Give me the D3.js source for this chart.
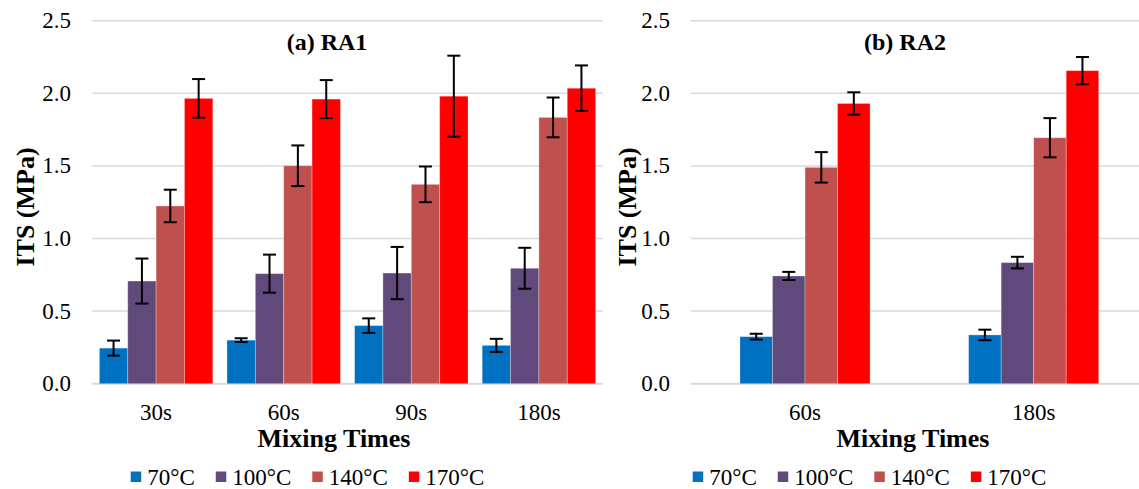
<!DOCTYPE html>
<html>
<head>
<meta charset="utf-8">
<style>
    body { margin: 0; background: #fff; }
    svg { display: block; }
    svg text { font-family: 'Liberation Serif', 'Times New Roman', serif; }
</style>
</head>
<body>
<svg width="1139" height="489"></svg>
<script src="https://d3js.org/d3.v7.min.js"></script>
<script>
    // series (temperatures) and colours
    const temps = ["70°C", "100°C", "140°C", "170°C"];
    const colors = ["#0070C0", "#604A7B", "#C0504D", "#FF0000"];
    const yTicks = [0, 0.5, 1.0, 1.5, 2.0, 2.5];

    // (a) RA1
    const timesRA1 = ["30s", "60s", "90s", "180s"];
    const ra1Mean = [
        [0.245, 0.707, 1.224, 1.965],
        [0.300, 0.758, 1.501, 1.960],
        [0.400, 0.762, 1.373, 1.980],
        [0.264, 0.795, 1.834, 2.035]
    ];
    const ra1Err = [
        [0.052, 0.155, 0.112, 0.133],
        [0.013, 0.131, 0.140, 0.131],
        [0.050, 0.180, 0.123, 0.279],
        [0.045, 0.141, 0.137, 0.157]
    ];

    // (b) RA2
    const timesRA2 = ["60s", "180s"];
    const ra2Mean = [
        [0.324, 0.742, 1.490, 1.930],
        [0.336, 0.834, 1.694, 2.156]
    ];
    const ra2Err = [
        [0.020, 0.028, 0.105, 0.077],
        [0.036, 0.040, 0.135, 0.094]
    ];

    const svg = d3.select("svg");
    const y = d3.scaleLinear().domain([0, 2.5]).range([383.7, 20.7]);

    function drawPanel(opt) {
        let g = svg.append("g");
        let x0 = d3.scaleBand().domain(opt.cats).range([opt.left, opt.right]);
        let groupW = x0.bandwidth() * opt.fill;
        let x1 = d3.scaleBand().domain(temps).range([0, groupW]);

        // gridlines
        g.selectAll(".grid")
            .data(yTicks)
            .join("line")
            .attr("x1", opt.left)
            .attr("x2", opt.gridEnd)
            .attr("y1", d => y(d))
            .attr("y2", d => y(d))
            .attr("stroke", "#d9d9d9")
            .attr("stroke-width", d => d == 0 ? 2 : 1.5);

        // y tick labels
        g.selectAll(".ytick")
            .data(yTicks)
            .join("text")
            .attr("x", opt.tickRight)
            .attr("y", d => y(d))
            .attr("text-anchor", "end")
            .attr("dominant-baseline", "central")
            .style("font-size", "23px")
            .text(d => d3.format(".1f")(d));

        let rows = opt.cats.map((c, i) => temps.map((t, j) => ({
            cat: c, temp: t, j: j, v: opt.mean[i][j], e: opt.err[i][j]
        }))).flat();

        let groups = g.selectAll(".grp")
            .data(rows)
            .join("g")
            .attr("transform", d => `translate(${x0(d.cat) + (x0.bandwidth() - groupW) / 2},0)`);

        groups.append("rect")
            .attr("x", d => x1(d.temp))
            .attr("width", x1.bandwidth())
            .attr("y", d => y(d.v))
            .attr("height", d => y(0) - y(d.v))
            .attr("fill", d => colors[d.j])
            .attr("stroke", "#fff")
            .attr("stroke-opacity", 0.35)
            .attr("stroke-width", 0.8);

        // error bars
        let cx = d => x1(d.temp) + x1.bandwidth() / 2;
        groups.append("line")
            .attr("x1", cx).attr("x2", cx)
            .attr("y1", d => y(d.v + d.e))
            .attr("y2", d => y(d.v - d.e))
            .attr("stroke", "#000").attr("stroke-width", 2);
        groups.append("line")
            .attr("x1", d => cx(d) - 6.5).attr("x2", d => cx(d) + 6.5)
            .attr("y1", d => y(d.v + d.e)).attr("y2", d => y(d.v + d.e))
            .attr("stroke", "#000").attr("stroke-width", 2);
        groups.append("line")
            .attr("x1", d => cx(d) - 6.5).attr("x2", d => cx(d) + 6.5)
            .attr("y1", d => y(d.v - d.e)).attr("y2", d => y(d.v - d.e))
            .attr("stroke", "#000").attr("stroke-width", 2);

        // category labels
        g.selectAll(".xlab")
            .data(opt.cats)
            .join("text")
            .attr("x", d => x0(d) + x0.bandwidth() / 2)
            .attr("y", 420)
            .attr("text-anchor", "middle")
            .style("font-size", "23px")
            .text(d => d);

        // titles
        g.append("text")
            .attr("x", opt.titleX).attr("y", 50)
            .attr("text-anchor", "middle")
            .style("font-size", "24px").style("font-weight", "bold")
            .text(opt.title);
        g.append("text")
            .attr("x", opt.xTitleX).attr("y", 447)
            .attr("text-anchor", "middle")
            .style("font-size", "26px").style("font-weight", "bold")
            .text("Mixing Times");
        g.append("text")
            .attr("transform", `translate(${opt.yTitleX},207) rotate(-90)`)
            .attr("text-anchor", "middle")
            .attr("dominant-baseline", "central")
            .style("font-size", "26px").style("font-weight", "bold")
            .text("ITS (MPa)");

        // legend
        let lx = opt.legendX;
        temps.forEach((t, j) => {
            g.append("rect")
                .attr("x", lx).attr("y", 471.5)
                .attr("width", 10.5).attr("height", 10.5)
                .attr("fill", colors[j]);
            let txt = g.append("text")
                .attr("x", lx + 16.5).attr("y", 484.5)
                .style("font-size", "23px")
                .text(t);
            lx += 16.5 + txt.node().getComputedTextLength() + 21;
        });
    }

    drawPanel({
        cats: timesRA1, mean: ra1Mean, err: ra1Err,
        left: 92.3, right: 602.7, gridEnd: 602.7, fill: 0.889,
        tickRight: 71, title: "(a) RA1", titleX: 327, xTitleX: 334,
        yTitleX: 25, legendX: 130.7
    });
    drawPanel({
        cats: timesRA2, mean: ra2Mean, err: ra2Err,
        left: 690.7, right: 1148, gridEnd: 1139, fill: 0.569,
        tickRight: 670, title: "(b) RA2", titleX: 905, xTitleX: 913,
        yTitleX: 627, legendX: 692.7
    });
</script>
</body>
</html>
